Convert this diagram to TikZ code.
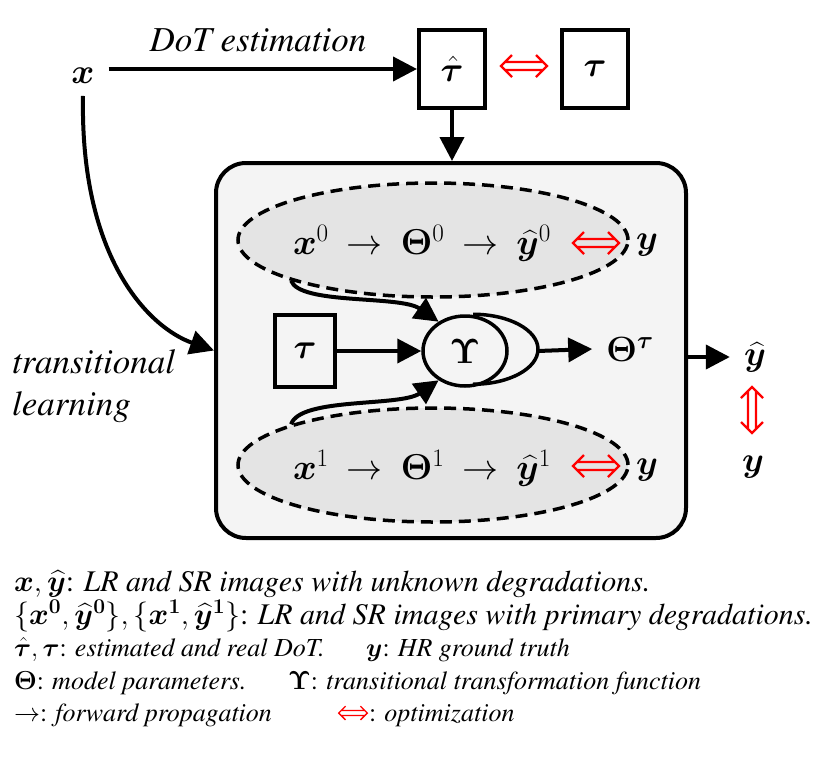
\documentclass[tikz,border=0pt]{standalone}
\usepackage{fix-cm}
\usepackage[T1]{fontenc}
\renewcommand{\rmdefault}{ptm}
\usepackage{amsmath,bm}
\usetikzlibrary{shapes.geometric, arrows.meta}

\definecolor{boxgray}{HTML}{F4F4F4}
\definecolor{ellgray}{HTML}{E4E4E4}
\newcommand{\mainsz}{\fontsize{35}{42}\selectfont}
\newcommand{\chainsz}{\fontsize{36}{42}\selectfont}
\newcommand{\legsz}{\fontsize{26}{32}\selectfont}
\newcommand{\leglargesz}{\fontsize{30}{32}\selectfont}

\tikzset{
  optline/.style={red,line width=2.2pt},
  optarrow/.pic={
    \draw[optline] (-19pt,4pt) -- (19pt,4pt) (-19pt,-4pt) -- (19pt,-4pt)
      (-12pt,11pt) -- (-23pt,0pt) -- (-12pt,-11pt)
      (12pt,11pt) -- (23pt,0pt) -- (12pt,-11pt);
  }
}

\begin{document}
\begin{tikzpicture}[x=1pt,y=-1pt,
  arr/.style={line width=4pt,-{Triangle[length=24pt,width=24pt]}},
  taubox/.style={draw,line width=4pt,fill=white,minimum width=66pt,minimum height=78pt,inner sep=0pt,font=\mainsz},
  dashell/.style={ellipse,draw,dashed,dash pattern=on 12pt off 7pt,line width=3.5pt,fill=ellgray,minimum width=390pt,minimum height=114pt},
  lbl/.style={font=\mainsz,inner sep=2pt},
  leg/.style={font=\legsz,anchor=base west,inner sep=0pt}]
\useasboundingbox (0,0) rectangle (831,756);

% DoT estimation
\node[lbl] (x) at (83,76) {$\bm{x}$};
\node[lbl,font=\mainsz\itshape] (dotest) at (258,40) {DoT estimation};
\node[taubox] (tauhat) at (452,69) {$\hat{\bm\tau}$};
\pic (opttop) at (524,66) {optarrow};
\node[taubox] (tau) at (595,69) {$\bm\tau$};

% transitional learning model
\node[draw,line width=4pt,fill=boxgray,rounded corners=30pt,minimum width=470pt,minimum height=375pt] (model) at (451,350.5) {};
\node[dashell] (ell0) at (433,240) {};
\node[dashell] (ell1) at (433,465) {};
\node[lbl,font=\chainsz] (chain0) at (422,243) {$\bm{x}^0\:\rightarrow\:\bm\Theta^0\:\rightarrow\:\widehat{\bm y}^0$};
\pic (opt0) at (596,243) {optarrow};
\node[lbl] (y0) at (647,245) {$\bm y$};
\node[lbl,font=\chainsz] (chain1) at (422,468) {$\bm{x}^1\:\rightarrow\:\bm\Theta^1\:\rightarrow\:\widehat{\bm y}^1$};
\pic (opt1) at (596,466) {optarrow};
\node[lbl] (y1) at (647,470) {$\bm y$};

\node[draw,line width=3.5pt,minimum width=60pt,minimum height=72pt,font=\mainsz] (taumid) at (305,351) {$\bm\tau$};
\node[ellipse,draw,line width=3.5pt,minimum width=84pt,minimum height=70pt,inner sep=0pt,font=\mainsz] (ups) at (465,351) {$\bm\Upsilon$};
\draw[line width=3.5pt] ([xshift=8pt]ups.north) arc[start angle=90,end angle=-90,x radius=65pt,y radius=35pt];
\coordinate (upsr) at ([xshift=73pt]ups.center);
\node[lbl] (thetatau) at (630,349) {$\bm\Theta^{\bm\tau}$};

\draw[arr] (taumid) -- (ups);
\draw[arr] (upsr) -- ([xshift=-12pt]thetatau.west);
\draw[arr] (ell0.196) .. controls (300,305) and (400,295) .. (ups.132);
\draw[arr] (ell1.164) .. controls (300,397) and (400,407) .. (ups.228);

% output
\node[lbl] (yhat) at (755,357) {$\widehat{\bm y}$};
\pic[rotate=90] (optv) at (752,410) {optarrow};
\node[lbl] (yout) at (753,467) {$\bm y$};

\draw[arr] ([xshift=12pt]x.east |- tauhat.west) -- (tauhat.west);
\draw[arr] (tauhat.south) -- (tauhat.south |- model.north);
\draw[arr] ([yshift=-10pt]x.south) .. controls (80,260) and (150,328) .. (model.west);
\draw[arr] (model.east |- yhat.west) -- ([xshift=-12pt]yhat.west);

\node[font=\mainsz\itshape,align=left,anchor=west,inner sep=0pt] (translearn) at (12,386) {transitional\\learning};

% legend
\node[leg,font=\leglargesz] (leg1) at (14,591) {$\bm x,\widehat{\bm y}$: \textit{LR and SR images with unknown degradations.}};
\node[leg,font=\leglargesz] (leg2) at (14,624) {$\{\bm x^{\bm 0},\widehat{\bm y}^{\bm 0}\},\{\bm x^{\bm 1},\widehat{\bm y}^{\bm 1}\}$: \textit{LR and SR images with primary degradations.}};
\node[leg] (leg3) at (14,656) {$\hat{\bm\tau},\bm\tau$: \textit{estimated and real DoT.}};
\node[leg] (leg3b) at (366,656) {$\bm y$: \textit{HR ground truth}};
\node[leg] (leg4) at (14,689) {$\bm\Theta$: \textit{model parameters.}};
\node[leg] (leg4b) at (288,689) {$\bm\Upsilon$: \textit{transitional transformation function}};
\node[leg] (leg5) at (14,721) {$\rightarrow$: \textit{forward propagation}};
\pic[scale=0.62,optline/.style={red,line width=1.4pt}] (legopt) at (353,713) {optarrow};
\node[leg] (leg5b) at (369,721) {: \textit{optimization}};
\end{tikzpicture}
\end{document}
